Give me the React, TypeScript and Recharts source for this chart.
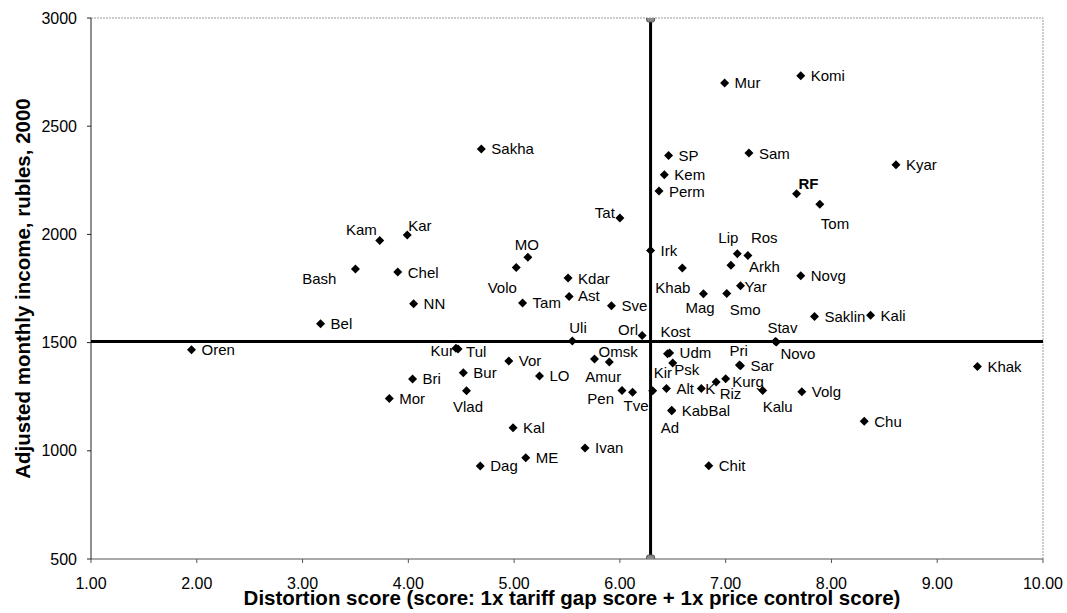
import React from 'react';
import { ScatterChart, Scatter, XAxis, YAxis, ReferenceLine, Label } from 'recharts';

// regions, distortion score (x) and adjusted monthly income (y)
const regions = [
  'Oren', 'Bel', 'Bash', 'Kam', 'Chel', 'Kar', 'NN', 'Bri', 'Mor', 'Kur',
  'Tul', 'Bur', 'Vlad', 'Sakha', 'Dag', 'Vor', 'Kal', 'Volo', 'Tam', 'ME',
  'MO', 'LO', 'Kdar', 'Ast', 'Uli', 'Ivan', 'Omsk', 'Amur', 'Sve', 'Tat',
  'Pen', 'Tve', 'Orl', 'Irk', 'Kir', 'Perm', 'Kem', 'Alt', 'Kost', 'SP',
  'Udm', 'KabBal', 'Ad', 'Psk', 'Khab', 'K', 'Mag', 'Chit', 'Riz', 'Mur',
  'Kurg', 'Smo', 'Arkh', 'Lip', 'Sar', 'Pri', 'Yar', 'Ros', 'Sam', 'Kalu',
  'Stav', 'Novo', 'RF', 'Komi', 'Novg', 'Volg', 'Saklin', 'Tom', 'Chu', 'Kali',
  'Kyar', 'Khak',
];
const scores = [
  1.95, 3.17, 3.5, 3.73, 3.9, 3.99, 4.05, 4.04, 3.82, 4.45,
  4.47, 4.52, 4.55, 4.69, 4.68, 4.95, 4.99, 5.02, 5.08, 5.11,
  5.13, 5.24, 5.51, 5.52, 5.55, 5.67, 5.76, 5.9, 5.92, 6.0,
  6.02, 6.12, 6.21, 6.29, 6.31, 6.37, 6.42, 6.44, 6.45, 6.46,
  6.47, 6.49, 6.49, 6.5, 6.59, 6.77, 6.79, 6.84, 6.91, 6.99,
  7.0, 7.01, 7.05, 7.11, 7.14, 7.13, 7.14, 7.21, 7.22, 7.35,
  7.47, 7.48, 7.67, 7.71, 7.71, 7.72, 7.84, 7.89, 8.31, 8.37,
  8.61, 9.38,
];
const incomes = [
  1467, 1587, 1840, 1972, 1826, 1997, 1680, 1332, 1242, 1474,
  1470, 1361, 1278, 2395, 930, 1415, 1107, 1847, 1683, 968,
  1894, 1346, 1798, 1713, 1507, 1013, 1424, 1410, 1670, 2076,
  1279, 1270, 1533, 1926, 1278, 2200, 2276, 1288, 1449, 2365,
  1452, 1185, 1187, 1406, 1845, 1288, 1726, 931, 1318, 2700,
  1333, 1727, 1857, 1911, 1393, 1396, 1763, 1903, 2376, 1279,
  1505, 1503, 2188, 2733, 1809, 1273, 1621, 2139, 1136, 1626,
  2322, 1390,
];

const xTicks = [1, 2, 3, 4, 5, 6, 7, 8, 9, 10];
const yTicks = [500, 1000, 1500, 2000, 2500, 3000];
const crossScore = 6.29;
const crossIncome = 1505;

const xTitle = 'Distortion score (score: 1x tariff gap score + 1x price control score)';
const yTitle = 'Adjusted monthly income, rubles, 2000';

const FONT = 'Liberation Sans, Arial, sans-serif';

// label placement relative to the marker: dx, dy (baseline), anchor
const defaultPlace: [number, number, string] = [10, 5.5, 'start'];
const labelPlace: Record<string, [number, number, string]> = {
  Tat: [-5, 0, 'end'],
  Kam: [-3, -5, 'end'],
  Kar: [1, -4, 'start'],
  MO: [-1, -7, 'middle'],
  Volo: [-14, 25, 'middle'],
  Ast: [9, 4, 'start'],
  Khab: [-27, 25, 'start'],
  Bash: [-19, 15, 'end'],
  RF: [2, -5, 'start'],
  Tom: [1, 25, 'start'],
  Lip: [-19, -11, 'start'],
  Ros: [3, -12, 'start'],
  Arkh: [18, 7, 'start'],
  Yar: [4, 6.5, 'start'],
  Mag: [-18, 19, 'start'],
  Smo: [3, 22, 'start'],
  Kost: [-7, -16.5, 'start'],
  Stav: [-8, -8.5, 'start'],
  Novo: [4, 17.5, 'start'],
  Pri: [-10, -9, 'start'],
  Kurg: [6.5, 8.5, 'start'],
  Riz: [3.5, 17.5, 'start'],
  K: [4, 6, 'start'],
  Kalu: [0, 21.5, 'start'],
  Kir: [1, -12.5, 'start'],
  Psk: [1.5, 12.5, 'start'],
  Ad: [-11, 23, 'start'],
  Uli: [-3, -8, 'start'],
  Orl: [-4, 0, 'end'],
  Kur: [-2, 8, 'end'],
  Tul: [8, 7.5, 'start'],
  Omsk: [4, -2, 'start'],
  Amur: [-24, 19.5, 'start'],
  Vlad: [-13.5, 21.5, 'start'],
  Pen: [-8, 13.5, 'end'],
  Tve: [-9, 18.5, 'start'],
};

const points = regions.map((name, i) => ({ name, x: scores[i], y: incomes[i] }));
const vLine = [{ x: crossScore, y: yTicks[0] }, { x: crossScore, y: yTicks[yTicks.length - 1] }];
const hLine = [{ x: xTicks[0], y: crossIncome }, { x: xTicks[xTicks.length - 1], y: crossIncome }];

const RegionMark = (props: any) => {
  const { cx, cy, payload } = props;
  const [dx, dy, anchor] = labelPlace[payload.name] ?? defaultPlace;
  const s = 4.5;
  return (
    <g>
      <polygon
        points={`${cx},${cy - s} ${cx + s},${cy} ${cx},${cy + s} ${cx - s},${cy}`}
        fill="#000"
      />
      <text
        x={cx + dx}
        y={cy + dy}
        textAnchor={anchor as any}
        fontSize={15}
        fontFamily={FONT}
        fontWeight={payload.name === 'RF' ? 'bold' : 'normal'}
        fill="#000"
      >
        {payload.name}
      </text>
    </g>
  );
};

const EndMark = (props: any) => (
  <rect x={props.cx - 4} y={props.cy - 4} width={8} height={8} rx={2} fill="#8a8a8a" stroke="#555" />
);

const XTitle = ({ viewBox }: any) => (
  <text
    x={viewBox.x + viewBox.width / 2 + 5}
    y={viewBox.y + viewBox.height - 8}
    textAnchor="middle"
    fontSize={20.5}
    fontWeight="bold"
    fontFamily={FONT}
    fill="#000"
  >
    {xTitle}
  </text>
);

const YTitle = ({ viewBox }: any) => {
  const x = viewBox.x + 29.5;
  const y = viewBox.y + viewBox.height / 2;
  return (
    <text
      x={x}
      y={y}
      transform={`rotate(-90 ${x} ${y})`}
      textAnchor="middle"
      fontSize={20.5}
      fontWeight="bold"
      fontFamily={FONT}
      fill="#000"
    >
      {yTitle}
    </text>
  );
};

export default function App() {
  const tickStyle = { fontSize: 16, fill: '#000', fontFamily: FONT };
  return (
    <div style={{ position: 'absolute', left: 0, top: 0, width: 1067, height: 613, background: '#fff' }}>
      <ScatterChart width={1067} height={613} margin={{ top: 18, right: 24, bottom: 0, left: 0 }}>
        <XAxis
          type="number"
          dataKey="x"
          domain={[1, 10]}
          ticks={xTicks}
          tickFormatter={(v: number) => v.toFixed(2)}
          tick={tickStyle}
          tickSize={4}
          tickMargin={15}
          height={54}
          axisLine={{ stroke: '#555' }}
          tickLine={{ stroke: '#555' }}
          allowDataOverflow
        >
          <Label content={<XTitle />} />
        </XAxis>
        <YAxis
          type="number"
          dataKey="y"
          domain={[500, 3000]}
          ticks={yTicks}
          tick={tickStyle}
          tickSize={4}
          tickMargin={10}
          width={91}
          axisLine={{ stroke: '#222' }}
          tickLine={{ stroke: '#222' }}
          allowDataOverflow
        >
          <Label content={<YTitle />} />
        </YAxis>
        <ReferenceLine y={3000} stroke="#999" strokeDasharray="2 1" />
        <ReferenceLine x={10} stroke="#999" strokeDasharray="2 1" />
        <Scatter
          data={hLine}
          line={{ stroke: '#000', strokeWidth: 3 }}
          shape={() => <g />}
          legendType="none"
          isAnimationActive={false}
        />
        <Scatter
          data={vLine}
          line={{ stroke: '#000', strokeWidth: 3 }}
          shape={<EndMark />}
          legendType="none"
          isAnimationActive={false}
        />
        <Scatter data={points} shape={<RegionMark />} isAnimationActive={false} />
      </ScatterChart>
    </div>
  );
}
